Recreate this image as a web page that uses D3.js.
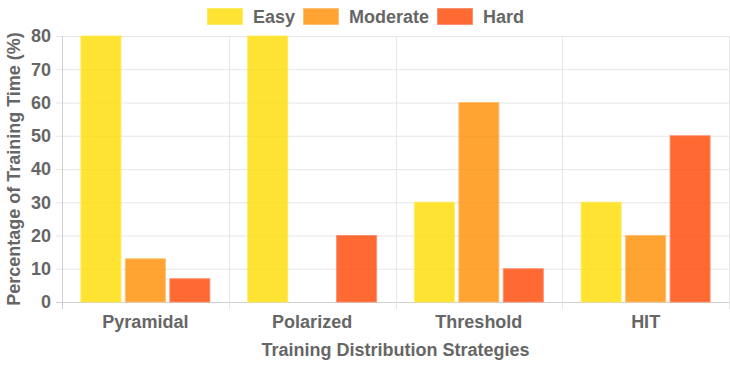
<!DOCTYPE html>
<html><head><meta charset="utf-8">
<script src="https://cdn.jsdelivr.net/npm/d3@7"></script>
<style>body{margin:0;background:#fff}svg{display:block}text{font-family:"Liberation Sans",Arial,sans-serif;font-weight:bold;fill:#666}</style>
</head><body><svg id="c" width="730" height="365"></svg>
<script>
const categories = ["Pyramidal","Polarized","Threshold","HIT"];
const seriesNames = ["Easy","Moderate","Hard"];
const easy = [80,80,30,30];
const moderate = [13,0,60,20];
const hard = [7,20,10,50];
const yTicks = [0,10,20,30,40,50,60,70,80];
const fills = ["rgba(255,220,0,0.8)","rgba(255,140,0,0.8)","rgba(255,69,0,0.8)"];
const strokes = ["rgba(255,235,90,0.9)","rgba(255,190,110,0.9)","rgba(255,140,110,0.9)"];
const series = [easy, moderate, hard];

const svg = d3.select("#c");
const L=62, R=729, T=36, B=302;
const x = d3.scaleBand().domain(categories).range([L,R]).paddingInner(0).paddingOuter(0);
const y = d3.scaleLinear().domain([0,80]).range([B,T]);

// horizontal grid
svg.append("g").selectAll("line").data(yTicks).join("line")
  .attr("x1",L-6).attr("x2",R).attr("y1",d=>y(d)+0.5).attr("y2",d=>y(d)+0.5)
  .attr("stroke",d=>d===0?"#d0d0d0":"#e6e6e6").attr("stroke-width",1);
// vertical grid
const bounds = categories.map(c=>x(c)).concat([R]);
svg.append("g").selectAll("line").data(bounds).join("line")
  .attr("x1",d=>Math.round(d)+0.5).attr("x2",d=>Math.round(d)+0.5).attr("y1",T).attr("y2",B+7)
  .attr("stroke",(d,i)=>i===0?"#d0d0d0":"#e6e6e6").attr("stroke-width",1);

// bars (Chart.js-like: category 0.8, bar 0.9)
const catW = x.bandwidth()*0.8, slot = catW/3, bw = slot*0.9;
const g = svg.append("g");
series.forEach((vals,si)=>{
  g.selectAll(null).data(vals).join("rect")
    .attr("x",(d,i)=>x(categories[i]) + x.bandwidth()*0.1 + si*slot + (slot-bw)/2)
    .attr("y",d=>y(d))
    .attr("width",bw)
    .attr("height",d=>Math.max(0,B-y(d)))
    .attr("fill",fills[si])
    .attr("stroke",d=>d>0?strokes[si]:"none").attr("stroke-width",1);
});

// y ticks labels
svg.append("g").selectAll("text").data(yTicks).join("text")
  .attr("x",51).attr("y",d=>y(d)).attr("dy","0.35em").attr("text-anchor","end")
  .attr("font-size",18).text(d=>d);
// x tick labels
svg.append("g").selectAll("text").data(categories).join("text")
  .attr("x",d=>x(d)+x.bandwidth()/2).attr("y",322).attr("dy","0.35em").attr("text-anchor","middle")
  .attr("font-size",18).text(d=>d);
// axis titles
svg.append("text").attr("x",(L+R)/2).attr("y",350).attr("dy","0.35em").attr("text-anchor","middle")
  .attr("font-size",18).text("Training Distribution Strategies");
svg.append("text").attr("transform",`translate(14,${(T+B)/2}) rotate(-90)`).attr("dy","0.35em")
  .attr("text-anchor","middle").attr("font-size",18).text("Percentage of Training Time (%)");

// legend
const legX = [207,303,437];
seriesNames.forEach((n,i)=>{
  svg.append("rect").attr("x",legX[i]+0.5).attr("y",8.5).attr("width",35).attr("height",16)
    .attr("fill",fills[i]).attr("stroke",strokes[i]);
  svg.append("text").attr("x",legX[i]+46).attr("y",17).attr("dy","0.35em").attr("font-size",18).text(n);
});
</script></body></html>
